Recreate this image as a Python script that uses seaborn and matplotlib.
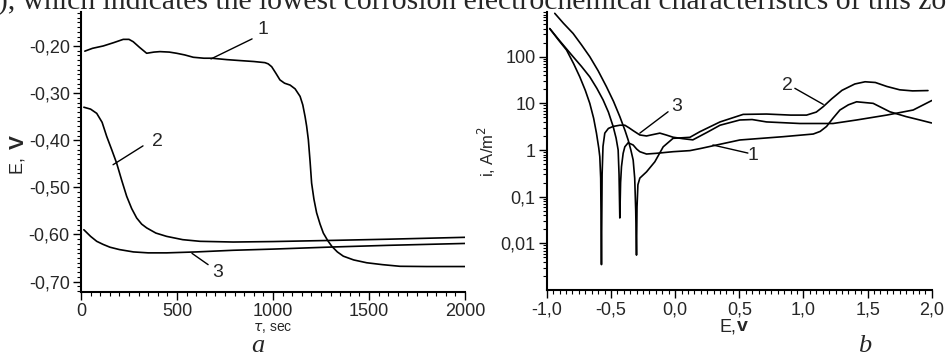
import seaborn as sns
import matplotlib.pyplot as plt
from matplotlib.ticker import MultipleLocator, FixedLocator, FuncFormatter, LogLocator, NullFormatter

# panel a: potential vs time
t1 = [20, 60, 116, 170, 220, 250, 272, 305, 342, 380, 411, 460, 498, 540, 585, 640, 681, 760, 828, 900,
      958, 975, 993, 1015, 1036, 1060, 1089, 1115, 1141, 1155, 1167, 1175, 1184, 1193, 1201, 1213, 1227, 1245,
      1262, 1285, 1306, 1335, 1366, 1420, 1488, 1570, 1661, 1800, 2000]
e1 = [-0.211, -0.205, -0.200, -0.193, -0.186, -0.186, -0.191, -0.203, -0.2155, -0.213, -0.212, -0.213, -0.2155,
      -0.219, -0.224, -0.226, -0.226, -0.229, -0.231, -0.233, -0.2354, -0.238, -0.244, -0.258, -0.272, -0.279,
      -0.283, -0.291, -0.307, -0.325, -0.35, -0.37, -0.399, -0.445, -0.491, -0.525, -0.554, -0.578, -0.597,
      -0.613, -0.625, -0.637, -0.646, -0.654, -0.660, -0.664, -0.6675, -0.668, -0.668]
t2 = [15, 50, 82, 110, 134, 160, 186, 212, 238, 264, 290, 316, 342, 390, 446, 530, 620, 793, 1000, 1314, 1600, 2000]
e2 = [-0.330, -0.334, -0.343, -0.362, -0.392, -0.420, -0.449, -0.485, -0.519, -0.545, -0.565, -0.578, -0.586,
      -0.597, -0.604, -0.611, -0.6145, -0.616, -0.615, -0.6125, -0.610, -0.606]
t3 = [15, 50, 82, 115, 151, 200, 273, 350, 446, 600, 793, 1000, 1314, 1600, 2000]
e3 = [-0.590, -0.604, -0.6145, -0.621, -0.627, -0.632, -0.637, -0.639, -0.639, -0.637, -0.6335, -0.631,
      -0.6265, -0.623, -0.619]

# panel b: polarisation curves
E1 = [-0.977, -0.9, -0.795, -0.73, -0.665, -0.61, -0.561, -0.52, -0.483, -0.46, -0.444, -0.437, -0.431, -0.425,
      -0.418, -0.405, -0.392, -0.366, -0.327, -0.3, -0.275, -0.223, -0.145, -0.016, 0.115, 0.2, 0.323, 0.504,
      0.842, 1.076, 1.13, 1.18, 1.23, 1.284, 1.35, 1.414, 1.543, 1.673, 1.80, 1.907, 1.998]
i1 = [400, 220, 100, 62, 37, 21, 11.8, 6.5, 3.2, 1.8, 1.0, 0.3, 0.035, 0.2, 0.44, 0.85, 1.17, 1.43, 1.28, 1.05,
      0.92, 0.82, 0.85, 0.92, 0.97, 1.08, 1.28, 1.64, 1.93, 2.2, 2.5, 3.2, 4.8, 7.2, 9.3, 10.8, 10.0, 6.6, 5.2,
      4.4, 3.8]
E2 = [-0.938, -0.87, -0.795, -0.73, -0.665, -0.60, -0.535, -0.48, -0.431, -0.39, -0.366, -0.345, -0.327, -0.315,
      -0.307, -0.301, -0.297, -0.29, -0.275, -0.223, -0.158, -0.093, -0.016, 0.115, 0.193, 0.35, 0.53, 0.712,
      0.9, 1.024, 1.1, 1.154, 1.22, 1.3, 1.4, 1.48, 1.56, 1.65, 1.75, 1.85, 1.97]
i2 = [850, 520, 315, 180, 100, 50, 22.7, 11, 5.2, 2.6, 1.64, 1.0, 0.61, 0.25, 0.05, 0.0056, 0.06, 0.18, 0.25,
      0.34, 0.56, 1.17, 1.78, 1.87, 2.47, 4.0, 5.8, 5.9, 5.6, 5.6, 6.5, 8.5, 12.5, 19, 26, 29, 28, 23, 19.5,
      18.5, 18.8]
E3 = [-0.977, -0.91, -0.846, -0.79, -0.743, -0.70, -0.665, -0.635, -0.613, -0.595, -0.587, -0.58, -0.574,
      -0.569, -0.562, -0.548, -0.52, -0.483, -0.43, -0.392, -0.36, -0.327, -0.275, -0.223, -0.17, -0.119,
      -0.07, -0.016, 0.06, 0.138, 0.25, 0.35, 0.504, 0.6, 0.712, 0.972, 1.23, 1.414, 1.648, 1.855, 2.0]
i3 = [400, 230, 139, 70, 37, 19, 10, 4.8, 2.3, 1.1, 0.72, 0.25, 0.0035, 0.3, 1.2, 2.3, 2.9, 3.2, 3.4, 3.4,
      3.0, 2.6, 2.1, 2.0, 2.15, 2.3, 2.1, 1.88, 1.75, 1.65, 2.4, 3.4, 4.4, 4.5, 4.0, 3.7, 3.7, 4.4, 5.6, 7.2, 11.5]

sns.set_style("ticks")
plt.rcParams['font.family'] = ['Liberation Sans', 'DejaVu Sans']

fig = plt.figure(figsize=(9.46, 3.58), dpi=100)
axa = fig.add_axes([0.0856, 0.1844, 0.406, 0.782])
axb = fig.add_axes([0.578, 0.19, 0.407, 0.776])

lw = 1.2
for x, y in [(t1, e1), (t2, e2), (t3, e3)]:
    sns.lineplot(x=x, y=y, ax=axa, color="black", lw=lw, sort=False, estimator=None)
axb.set_yscale("log")
for x, y in [(E1, i1), (E2, i2), (E3, i3)]:
    sns.lineplot(x=x, y=y, ax=axb, color="black", lw=lw, sort=False, estimator=None)

comma = lambda fmt: FuncFormatter(lambda v, p: fmt.format(v).replace(".", ","))

# panel a axes
axa.set_xlim(0, 2000)
axa.set_ylim(-0.722, -0.128)
axa.xaxis.set_major_locator(MultipleLocator(500))
axa.xaxis.set_minor_locator(MultipleLocator(50))
axa.yaxis.set_major_locator(FixedLocator([-0.7, -0.6, -0.5, -0.4, -0.3, -0.2]))
axa.yaxis.set_minor_locator(MultipleLocator(0.01))
axa.yaxis.set_major_formatter(comma("{:.2f}"))
axa.set_xlabel(r"$\tau$, sec", fontsize=10, labelpad=1)
axa.set_ylabel("")
fig.text(0.019, 0.575, "E, ", rotation=90, fontsize=13, ha="center", va="top")
fig.text(0.019, 0.585, "V", rotation=90, fontsize=15, fontweight="bold", ha="center", va="bottom")

# panel b axes
axb.set_xlim(-1.0, 2.0)
axb.set_ylim(0.001, 900)
axb.xaxis.set_major_locator(MultipleLocator(0.5))
axb.xaxis.set_minor_locator(MultipleLocator(0.05))
axb.xaxis.set_major_formatter(comma("{:.1f}"))
axb.yaxis.set_major_locator(FixedLocator([0.01, 0.1, 1, 10, 100]))
axb.yaxis.set_minor_locator(LogLocator(subs=range(2, 10)))
axb.yaxis.set_minor_formatter(NullFormatter())
axb.yaxis.set_major_formatter(FuncFormatter(lambda v, p: {0.01: "0,01", 0.1: "0,1"}.get(round(v, 3), f"{v:g}")))
axb.set_ylabel(r"i, A/m$^2$", fontsize=12, labelpad=2)
axb.set_xlabel("")
fig.text(0.7785, 1 - 331 / 358, "E,", fontsize=13, ha="right", va="baseline")
fig.text(0.7795, 1 - 331 / 358, "v", fontsize=14, fontweight="bold", ha="left", va="baseline")

for ax in (axa, axb):
    sns.despine(ax=ax)
    for s in ("left", "bottom"):
        ax.spines[s].set_linewidth(1.5)
        ax.spines[s].set_color("black")
    ax.tick_params(which="major", direction="out", length=6, width=1, labelsize=13, pad=2, color="black")
    ax.tick_params(which="minor", direction="out", length=3, width=0.8, color="black")

# curve labels
ann = dict(color="black", lw=1.0)
axa.plot([891, 677], [-0.185, -0.2275], **ann)
axa.text(948, -0.166, "1", fontsize=14, ha="center", va="center")
axa.plot([323, 167], [-0.412, -0.452], **ann)
axa.text(396, -0.403, "2", fontsize=14, ha="center", va="center")
axa.plot([662, 578], [-0.664, -0.640], **ann)
axa.text(714, -0.681, "3", fontsize=14, ha="center", va="center")

axb.plot([-0.055, -0.275], [6.6, 2.3], **ann)
axb.text(0.011, 8.5, "3", fontsize=14, ha="center", va="center")
axb.plot([0.567, 0.294], [0.86, 1.28], **ann)
axb.text(0.606, 0.78, "1", fontsize=14, ha="center", va="center")
axb.plot([0.933, 1.154], [21, 9.5], **ann)
axb.text(0.873, 24.7, "2", fontsize=14, ha="center", va="center")

# panel letters and the clipped line of body text above
fig.text(258 / 946, 1 - 352 / 358, "a", fontsize=19, style="italic", family="Liberation Serif",
         ha="center", va="baseline")
fig.text(865 / 946, 1 - 352 / 358, "b", fontsize=19, style="italic", family="Liberation Serif",
         ha="center", va="baseline")
fig.text(-0.002, 1 - 10 / 358, "), which indicates the lowest corrosion electrochemical characteristics of this zone",
         fontsize=21.3, family="Liberation Serif", ha="left", va="baseline")

fig.savefig("out.png", dpi=100)
